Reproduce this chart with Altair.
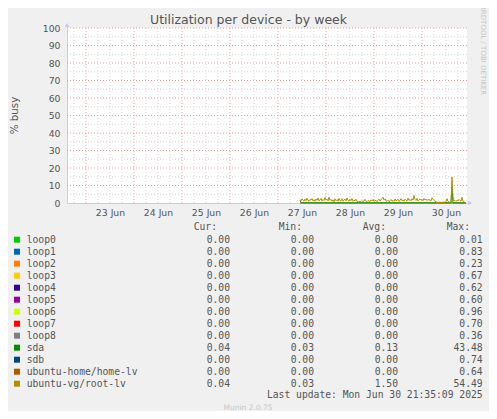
import altair as alt
import pandas as pd

# ---------------- data ----------------
TITLE = "Utilization per device - by week"
Y_TITLE = "% busy"
SIDE_TEXT = "RRDTOOL / TOBI OETIKER"
LAST_UPDATE = "Last update: Mon Jun 30 21:35:09 2025"
VERSION = "Munin 2.0.75"

devices = ["loop0", "loop1", "loop2", "loop3", "loop4", "loop5", "loop6",
           "loop7", "loop8", "sda", "sdb", "ubuntu-home/home-lv", "ubuntu-vg/root-lv"]
colors = ["#00CC00", "#0066B3", "#FF8000", "#FFCC00", "#330099", "#990099", "#CCFF00",
          "#FF0000", "#808080", "#008F00", "#00487D", "#B35A00", "#B38F00"]
cur_vals = [0.00, 0.00, 0.00, 0.00, 0.00, 0.00, 0.00, 0.00, 0.00, 0.04, 0.00, 0.00, 0.04]
min_vals = [0.00, 0.00, 0.00, 0.00, 0.00, 0.00, 0.00, 0.00, 0.00, 0.03, 0.00, 0.00, 0.03]
avg_vals = [0.00, 0.00, 0.00, 0.00, 0.00, 0.00, 0.00, 0.00, 0.00, 0.13, 0.00, 0.00, 1.50]
max_vals = [0.01, 0.83, 0.23, 0.67, 0.62, 0.60, 0.96, 0.70, 0.36, 43.48, 0.74, 0.64, 54.49]
headers = ["Cur:", "Min:", "Avg:", "Max:"]

# ubuntu-vg/root-lv, 30-minute samples starting 27 Jun 11:00 UTC
root_start = "2025-06-27 11:00"
root_values = [
    2.0, 1.2, 2.4, 1.5, 1.0, 2.2, 1.3, 2.8, 1.4, 1.1, 2.0, 1.6, 2.5, 1.2, 1.8, 1.0, 2.3, 1.5, 2.9, 1.3, 1.7,
    2.6, 1.1, 2.0, 1.4, 3.1, 1.6, 2.2, 1.2, 3.4, 1.5, 2.1, 1.0, 1.8, 0.8, 2.4, 1.3, 1.9, 1.1, 2.7, 1.4,
    1.2, 2.5, 1.0, 1.7, 2.3, 1.2, 2.9, 1.5, 1.1, 2.0, 1.3, 2.6, 1.0, 1.6, 1.2, 2.2, 0.9, 0.7, 0.6, 1.0,
    0.8, 1.4, 0.7, 1.2, 2.1, 1.0, 0.8, 1.5, 1.1, 0.9, 1.8, 1.2, 2.0, 1.0, 1.6, 1.3, 0.9, 1.4, 2.2, 1.1,
    1.9, 2.6, 3.3, 1.8, 2.4, 1.2, 1.0, 1.6, 0.8, 1.3, 2.0, 1.1, 1.5, 0.9, 2.3, 1.2, 1.7, 2.1, 1.0, 1.4,
    2.5, 1.3, 1.8, 1.1, 2.2, 1.6, 1.2, 2.8, 1.5, 1.9, 1.3, 2.4, 1.6, 4.3, 2.0, 1.4, 2.6, 1.2, 1.8, 2.3,
    1.5, 2.0, 1.3, 2.6, 1.7, 2.2, 1.4, 2.1, 1.6, 1.9, 1.2, 3.0, 2.2, 1.5, 1.0, 0.6, 0.4, 0.3, 0.5, 0.3,
    0.4, 0.3, 0.6, 0.3, 0.5, 0.8, 2.5, 0.9, 0.5, 0.4, 0.6, 14.9, 3.5, 1.2, 1.5, 0.9, 1.6, 1.2, 2.0, 1.4,
    1.1, 3.3, 1.0, 0.6, 0.3, 0.2,
]

# sda (mostly hidden under root-lv)
sda_times = ["2025-06-27T11:00:00Z", "2025-06-27T11:30:00Z", "2025-06-30T14:30:00Z",
             "2025-06-30T15:00:00Z", "2025-06-30T15:30:00Z", "2025-06-30T22:00:00Z"]
sda_values = [1.5, 0.1, 0.1, 9.0, 0.1, 0.04]

# idle devices (flat at zero over the recorded span)
idle_times = ["2025-06-27T11:00:00Z", "2025-06-30T22:00:00Z"]
idle_values = [0.0, 0.0]

y_ticks = [0, 10, 20, 30, 40, 50, 60, 70, 80, 90, 100]
y_minor = [5, 15, 25, 35, 45, 55, 65, 75, 85, 95]

# ---------------- build tables ----------------
root_times = pd.date_range(root_start, periods=len(root_values), freq="30min", tz="UTC")
root_df = pd.DataFrame({"t": root_times.strftime("%Y-%m-%dT%H:%M:%SZ"), "v": root_values})
sda_df = pd.DataFrame({"t": sda_times, "v": sda_values})
idle_df = pd.DataFrame({"t": idle_times, "v": idle_values})

midnights = pd.date_range("2025-06-23", "2025-06-30", freq="D", tz="UTC")
six_h = pd.date_range("2025-06-22 18:00", "2025-06-30 18:00", freq="6h", tz="UTC")
minor_x = [t for t in six_h if t.hour != 0]
fmt = "%Y-%m-%dT%H:%M:%SZ"
major_x_df = pd.DataFrame({"t": [t.strftime(fmt) for t in midnights]})
minor_x_df = pd.DataFrame({"t": [t.strftime(fmt) for t in minor_x]})
major_y_df = pd.DataFrame({"v": y_ticks[1:]})
minor_y_df = pd.DataFrame({"v": y_minor})

label_days = [23, 24, 25, 26, 27, 28, 29, 30]

legend_df = pd.DataFrame({
    "name": devices, "color": colors, "cur": cur_vals, "mn": min_vals,
    "avg": avg_vals, "mx": max_vals, "row": list(range(len(devices))),
})

# ---------------- styling ----------------
FONT = "DejaVu Sans"
MONO = "DejaVu Sans Mono"
TXT = "#555555"
AXIS_C = "#c8c8f0"
MAJOR_C = "#e8a0a0"
MINOR_C = "#d4d4d4"
W, H = 400, 175

x_scale = alt.Scale(
    type="utc",
    domain=[alt.DateTime(year=2025, month=6, date=22, hours=14, minutes=30, utc=True),
            alt.DateTime(year=2025, month=6, date=30, hours=22, minutes=30, utc=True)],
)
y_scale = alt.Scale(domain=[0, 100], nice=False)

x_axis = alt.Axis(
    values=[alt.DateTime(year=2025, month=6, date=d, hours=12, utc=True) for d in label_days],
    format="%d %b", title=None, grid=False, ticks=False, labelPadding=5,
    labelFont=FONT, labelFontSize=9.3, labelColor=TXT, labelFlush=False,
    domainColor=AXIS_C, domainWidth=1,
)
y_axis = alt.Axis(
    values=y_ticks, title=Y_TITLE, grid=False, ticks=False, labelPadding=7,
    labelFont=FONT, labelFontSize=9.3, labelColor=TXT,
    domainColor=AXIS_C, domainWidth=1,
    titleFont=FONT, titleFontSize=10.3, titleFontWeight="normal", titleColor=TXT,
    titleAngle=270, titleX=-52.5, titleY=87, titleAlign="center", titleBaseline="middle",
)

X = alt.X("t:T", scale=x_scale, axis=x_axis)
Y = alt.Y("v:Q", scale=y_scale, axis=y_axis)

# ---------------- layers ----------------
grid_minor_x = alt.Chart(minor_x_df).mark_rule(color=MINOR_C, strokeWidth=1, strokeDash=[1, 2]).encode(x=X)
grid_minor_y = alt.Chart(minor_y_df).mark_rule(color=MINOR_C, strokeWidth=1, strokeDash=[1, 2]).encode(y=Y)
grid_major_x = alt.Chart(major_x_df).mark_rule(color=MAJOR_C, strokeWidth=1, strokeDash=[1, 2]).encode(x=X)
grid_major_y = alt.Chart(major_y_df).mark_rule(color=MAJOR_C, strokeWidth=1, strokeDash=[1, 2]).encode(y=Y)

idle_line = alt.Chart(idle_df).mark_line(color=colors[11], strokeWidth=1).encode(x=X, y=Y)
sda_line = alt.Chart(sda_df).mark_line(color=colors[9], strokeWidth=1).encode(x=X, y=Y)
root_line = alt.Chart(root_df).mark_line(color=colors[12], strokeWidth=1).encode(x=X, y=Y)

# axis arrows
arrow_up = alt.Chart(pd.DataFrame({"t": ["2025-06-22T14:30:00Z"], "v": [100]})).mark_point(
    shape="triangle-up", filled=True, size=22, color=AXIS_C, opacity=1, yOffset=-3
).encode(x=X, y=Y)
arrow_right = alt.Chart(pd.DataFrame({"t": ["2025-06-30T22:30:00Z"], "v": [0]})).mark_point(
    shape="triangle-right", filled=True, size=22, color=AXIS_C, opacity=1, xOffset=3
).encode(x=X, y=Y)

# title & side text
title = alt.Chart(pd.DataFrame({"s": [TITLE]})).mark_text(
    font=FONT, fontSize=12.5, color=TXT, align="center", baseline="middle"
).encode(text="s:N", x=alt.value(181.5), y=alt.value(-8.5))
side = alt.Chart(pd.DataFrame({"s": [SIDE_TEXT]})).mark_text(
    font=FONT, fontSize=7.0, color="#c4c4c4", align="left", baseline="middle", angle=90
).encode(text="s:N", x=alt.value(416), y=alt.value(-23))

# legend table
ROW0, ROWH = 211.7, 12
leg_base = alt.Chart(legend_df).transform_calculate(py=f"{ROW0} + {ROWH} * datum.row")
PY = alt.Y("py:Q", scale=None, axis=None)

swatch = leg_base.mark_square(size=36, opacity=1, filled=True).encode(
    x=alt.value(-50), y=PY,
    color=alt.Color("name:N", scale=alt.Scale(domain=devices, range=colors), legend=None),
)
names = leg_base.mark_text(font=MONO, fontSize=9.7, color=TXT, align="left", baseline="middle").encode(
    x=alt.value(-40.3), y=PY, text="name:N")

col_fields = ["cur", "mn", "avg", "mx"]
col_right = [163, 247, 331, 415.7]
head_right = [150, 235, 319, 403]
cols = []
for f, xr in zip(col_fields, col_right):
    cols.append(leg_base.mark_text(font=MONO, fontSize=9.7, color=TXT, align="right", baseline="middle").encode(
        x=alt.value(xr), y=PY, text=alt.Text(f"{f}:Q", format=".2f")))
head_df = pd.DataFrame({"h": headers, "i": list(range(len(headers)))})
head_layers = []
for i, xr in enumerate(head_right):
    head_layers.append(
        alt.Chart(head_df).transform_filter(f"datum.i == {i}").mark_text(
            font=MONO, fontSize=9.7, color=TXT, align="right", baseline="middle"
        ).encode(x=alt.value(xr), y=alt.value(199.3), text="h:N"))

last_upd = alt.Chart(pd.DataFrame({"s": [LAST_UPDATE]})).mark_text(
    font=MONO, fontSize=9.7, color=TXT, align="right", baseline="middle"
).encode(text="s:N", x=alt.value(415.7), y=alt.value(367.3))
version = alt.Chart(pd.DataFrame({"s": [VERSION]})).mark_text(
    font=FONT, fontSize=7.5, color="#c8c8c8", align="center", baseline="middle"
).encode(text="s:N", x=alt.value(181), y=alt.value(380.3))

chart = alt.layer(
    grid_minor_x, grid_minor_y, grid_major_x, grid_major_y,
    idle_line, sda_line, root_line, arrow_up, arrow_right,
    title, side, swatch, names, *cols, *head_layers, last_upd, version,
).properties(
    width=W, height=H,
    autosize=alt.AutoSizeParams(type="none"),
    padding={"left": 59, "top": 20, "right": 22, "bottom": 208},
).configure(background="#f0f0f0").configure_view(fill="white", strokeWidth=0)

chart.save("out.html", embed_options={"renderer": "svg", "actions": False})
